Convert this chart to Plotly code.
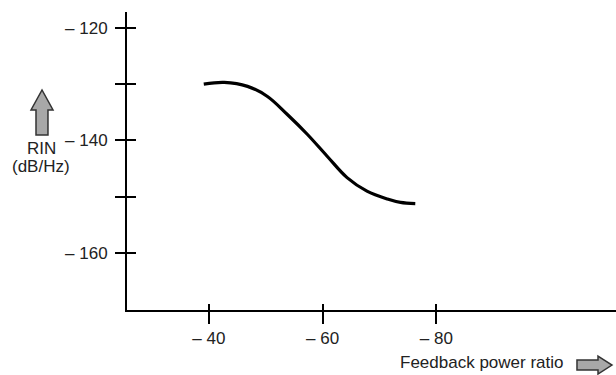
import plotly.graph_objects as go

# curve
feedback_db = [-39.1, -42.7, -46.8, -50.3, -53.8, -57.3, -60.8, -64.3, -67.8, -71.4, -73.7, -76.3]
rin_db = [-130.0, -129.7, -130.4, -132.2, -135.4, -138.9, -142.8, -146.6, -149.0, -150.4, -151.0, -151.2]

x_ticks = [-40, -60, -80]
x_labels = ["\u2013 40", "\u2013 60", "\u2013 80"]
y_ticks = [-160, -150, -140, -130, -120]
y_labels = ["\u2013 160", "", "\u2013 140", "", "\u2013 120"]

W, H = 616, 375
L, R, T, B = 127, 0, 12, 65


def px(x, y):
    # screen pixel position -> paper coords
    return (x - L) / (W - L - R), (H - B - y) / (H - T - B)


def poly(pts):
    p = [px(*q) for q in pts]
    return "M " + " L ".join(f"{a:.4f},{b:.4f}" for a, b in p) + " Z"


font = dict(family="Liberation Sans, Arial, sans-serif", size=17, color="#222")
xr = [-25.6, -111.6]
yr = [-170.1, -117.2]

fig = go.Figure()
fig.add_trace(go.Scatter(x=feedback_db, y=rin_db, mode="lines",
                         line=dict(color="black", width=3.2, shape="spline", smoothing=1.0),
                         hoverinfo="skip"))
# invisible trace to carry the inner half of the crossing ticks
fig.add_trace(go.Scatter(x=[None], y=[None], xaxis="x2", yaxis="y2", showlegend=False))

fig.update_layout(
    width=W, height=H, showlegend=False,
    margin=dict(l=L, r=R, t=T, b=B),
    paper_bgcolor="white", plot_bgcolor="white",
    font=font,
    xaxis=dict(range=xr, tickvals=x_ticks, ticktext=x_labels, ticks="outside",
               ticklen=12, tickwidth=2, tickcolor="black", showgrid=False, zeroline=False,
               showline=True, linecolor="black", linewidth=2, tickfont=font),
    yaxis=dict(range=yr, tickvals=y_ticks, ticktext=y_labels, ticks="outside",
               ticklen=10, tickwidth=2, tickcolor="black", showgrid=False, zeroline=False,
               showline=True, linecolor="black", linewidth=2, tickfont=font,
               ticklabelstandoff=4),
    xaxis2=dict(range=xr, overlaying="x", side="bottom", tickvals=x_ticks, ticks="inside",
                ticklen=6, tickwidth=2, tickcolor="black", showticklabels=False,
                showgrid=False, zeroline=False),
    yaxis2=dict(range=yr, overlaying="y", side="left", tickvals=y_ticks,
                ticks="inside", ticklen=9, tickwidth=2, tickcolor="black",
                showticklabels=False, showgrid=False, zeroline=False),
)

# block arrows
arrow_style = dict(type="path", xref="paper", yref="paper", fillcolor="#a8a8a8",
                   line=dict(color="#333", width=1.5))
fig.add_shape(path=poly([(36, 135), (48, 135), (48, 110), (53, 110), (42, 90),
                         (31, 110), (36, 110)]), **arrow_style)
fig.add_shape(path=poly([(577, 360), (598, 360), (598, 356), (612, 365), (598, 374),
                         (598, 370), (577, 370)]), **arrow_style)

for text, sx, sy in [("RIN", 41, 148), ("(dB/Hz)", 41, 166), ("Feedback power ratio", 481, 362)]:
    x0, y0 = px(sx, sy)
    fig.add_annotation(x=x0, y=y0, xref="paper", yref="paper", text=text, showarrow=False,
                       xanchor="center", yanchor="middle", font=dict(size=17))

# drop the default 8px body margin so the figure fills the window exactly
fig.write_html("out.html", config={"displayModeBar": False},
               post_script="document.body.style.margin='0';")
